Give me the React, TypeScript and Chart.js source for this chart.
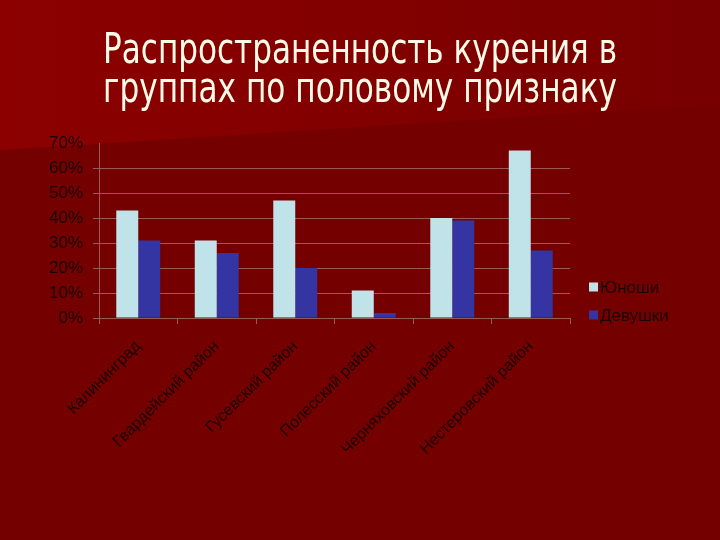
import React, { useEffect, useRef } from "react";
import { Chart, registerables } from "chart.js";

Chart.register(...registerables);

const titleLines = ["Распространенность курения в", "группах по половому признаку"];
const categories = [
  "Калининград",
  "Гвардейский район",
  "Гусевский район",
  "Полесский район",
  "Черняховский район",
  "Нестеровский район",
];
const seriesNames = ["Юноши", "Девушки"];
const boys = [0.43, 0.31, 0.47, 0.11, 0.40, 0.67];
const girls = [0.31, 0.26, 0.20, 0.02, 0.39, 0.27];
const yMin = 0;
const yMax = 0.7;
const yStep = 0.1;

const colors = ["#bfe3e8", "#3434a2"];
const gridColor = "#9a5a5a";
const labelColor = "#1c0000";
const labelFont = "'Liberation Sans', Arial, sans-serif";
const titleFont = "'Liberation Sans Narrow', 'Arial Narrow', 'DejaVu Sans Condensed', sans-serif";

const narrowTitle = {
  id: "narrowTitle",
  afterDraw(chart: any) {
    const { ctx } = chart;
    const cx = chart.width / 2;
    const baselines = [63, 102];
    ctx.save();
    ctx.font = `43px ${titleFont}`;
    ctx.fillStyle = "#fffbe8";
    ctx.textAlign = "center";
    ctx.textBaseline = "alphabetic";
    titleLines.forEach((line, i) => ctx.fillText(line, cx, baselines[i], 514));
    ctx.restore();
  },
};

const sideLegend = {
  id: "sideLegend",
  afterDraw(chart: any) {
    const { ctx, chartArea } = chart;
    const x = chartArea.right + 19;
    const ys = [chartArea.bottom - 31, chartArea.bottom - 3];
    ctx.save();
    ctx.font = `17px ${labelFont}`;
    ctx.textBaseline = "middle";
    ctx.textAlign = "left";
    chart.data.datasets.forEach((ds: any, i: number) => {
      const y = ys[i];
      ctx.fillStyle = ds.backgroundColor;
      ctx.fillRect(x, y - 4.5, 9, 9);
      ctx.fillStyle = labelColor;
      ctx.fillText(ds.label, x + 11, y + 1);
    });
    ctx.restore();
  },
};

export default function App() {
  const ref = useRef<HTMLCanvasElement | null>(null);

  useEffect(() => {
    if (!ref.current) return;
    const chart = new Chart(ref.current, {
      type: "bar",
      data: {
        labels: categories,
        datasets: [
          { label: seriesNames[0], data: boys, backgroundColor: colors[0], barPercentage: 1, categoryPercentage: 0.56 },
          { label: seriesNames[1], data: girls, backgroundColor: colors[1], barPercentage: 1, categoryPercentage: 0.56 },
        ],
      },
      options: {
        responsive: false,
        animation: false,
        layout: { padding: { top: 143, left: 0, right: 0, bottom: 0 } },
        plugins: {
          legend: { display: false },
          tooltip: { enabled: false },
          title: { display: false },
        },
        scales: {
          x: {
            grid: { drawOnChartArea: false, drawTicks: true, tickLength: 6, color: gridColor, offset: true },
            border: { display: true, color: gridColor },
            ticks: {
              color: labelColor,
              font: { family: labelFont, size: 16 },
              minRotation: 45,
              maxRotation: 45,
              autoSkip: false,
              padding: 13,
            },
            afterFit(scale: any) {
              scale.height = 222;
            },
          },
          y: {
            min: yMin,
            max: yMax,
            grid: {
              color: (c: any) => (c.tick && c.tick.value >= yMax - 1e-9 ? "rgba(0,0,0,0)" : gridColor),
              tickLength: 6,
            },
            border: { display: true, color: gridColor },
            ticks: {
              stepSize: yStep,
              color: labelColor,
              font: { family: labelFont, size: 17 },
              padding: 10,
              callback: (v: any) => Math.round(Number(v) * 100) + "%",
            },
            afterFit(scale: any) {
              scale.width = 99;
            },
          },
          legendSpace: {
            type: "linear",
            position: "right",
            display: true,
            grid: { display: false, drawTicks: false },
            border: { display: false },
            ticks: { display: false },
            afterFit(scale: any) {
              scale.width = 150;
            },
          },
        },
      },
      plugins: [narrowTitle, sideLegend],
    });
    return () => chart.destroy();
  }, []);

  return (
    <div style={{ position: "fixed", left: 0, top: 0, width: 720, height: 540, background: "#750000", overflow: "hidden" }}>
      <div
        style={{
          position: "absolute",
          left: 0,
          top: 0,
          width: 720,
          height: 150,
          background: "linear-gradient(to right, #8c0000, #780000)",
          clipPath: "polygon(0 0, 100% 0, 100% 104px, 0 150px)",
        }}
      />
      <canvas ref={ref} width={720} height={540} style={{ position: "absolute", left: 0, top: 0 }} />
    </div>
  );
}
